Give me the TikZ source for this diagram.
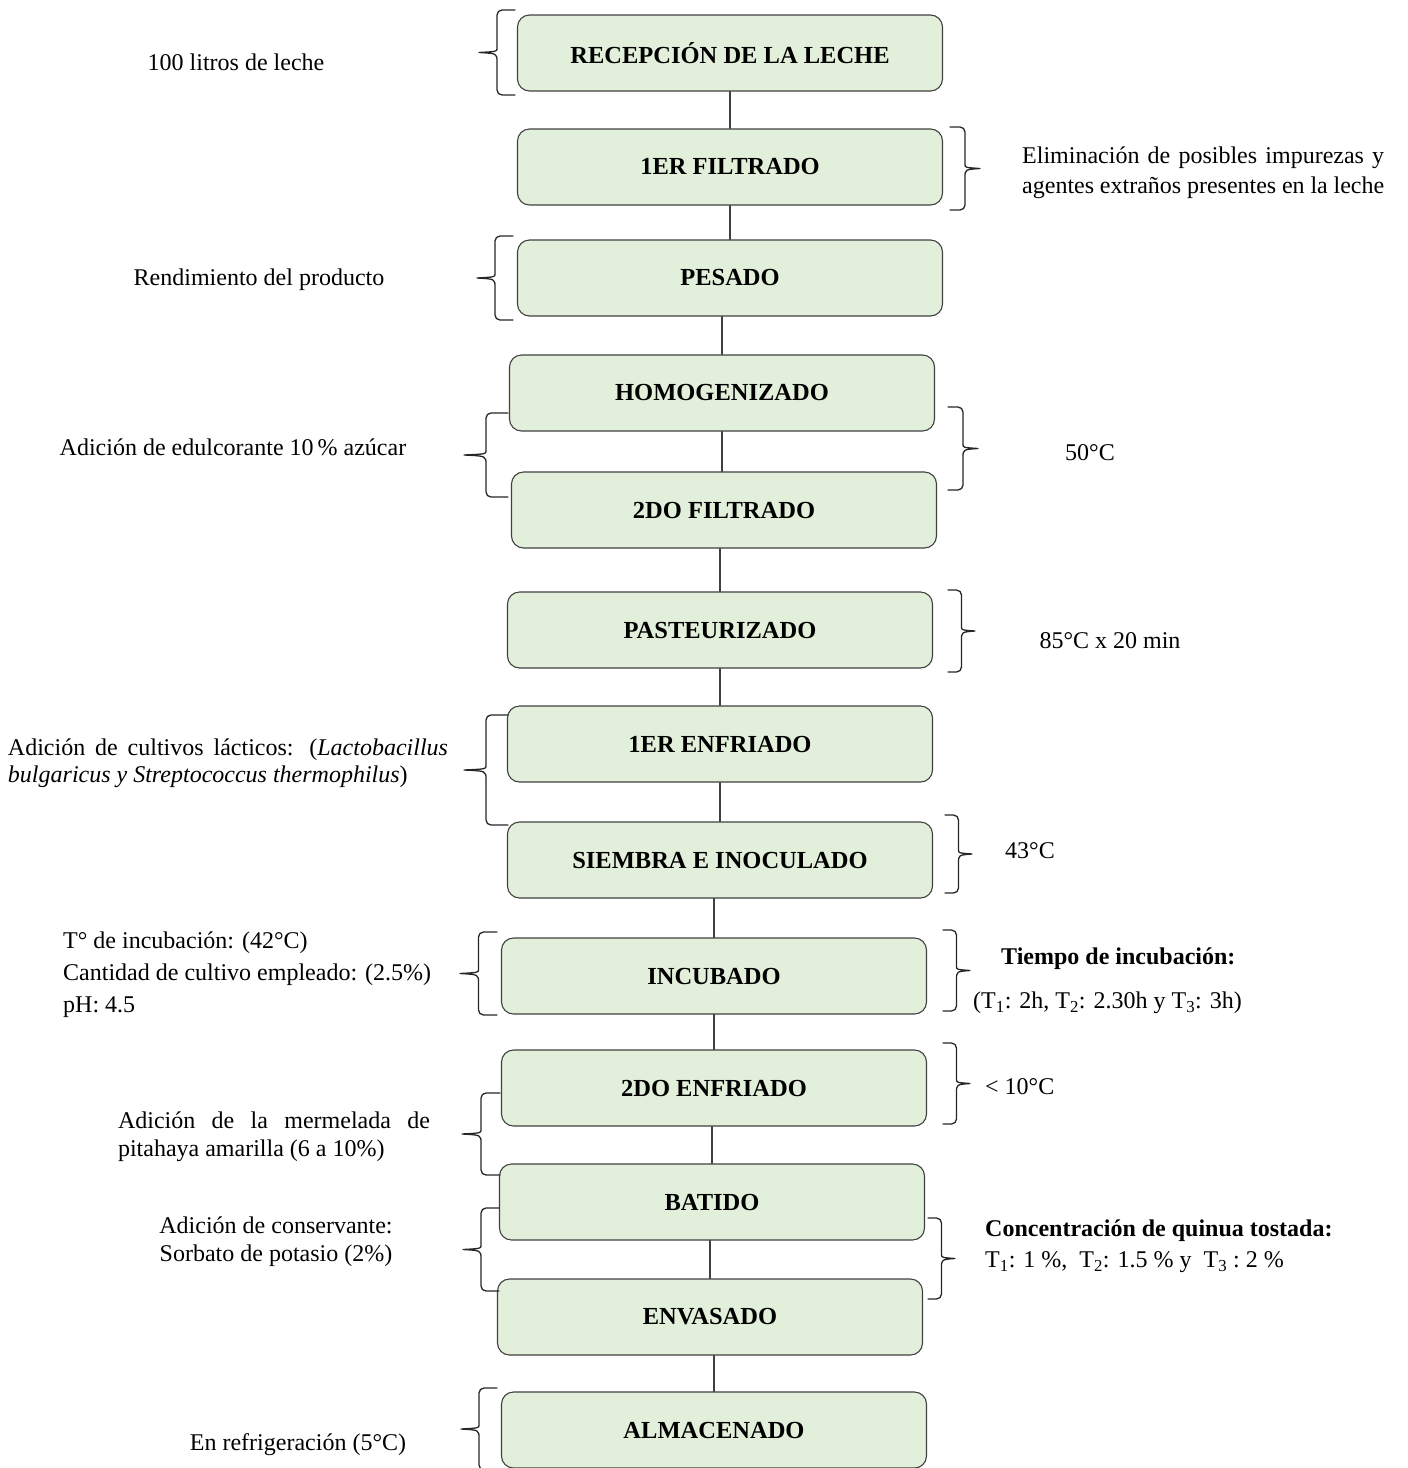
\documentclass[tikz,border=0pt]{standalone}
\usepackage{fontspec}
\setmainfont{Liberation Serif}
\usepackage{tikz}
\usetikzlibrary{calc}
\definecolor{verdeclaro}{HTML}{E2EFDA}
\definecolor{borde}{HTML}{404040}
\hyphenpenalty=10000
\exhyphenpenalty=10000

\begin{document}
\begin{tikzpicture}[line cap=round,line join=round,x=1pt,y=-1pt,
  paso/.style={draw=borde,fill=verdeclaro,line width=1.1pt,rounded corners=12pt,
    minimum width=425pt,minimum height=76pt,inner sep=0pt,
    font=\bfseries\fontsize{24.5}{28}\selectfont},
  nota/.style={inner sep=0pt,font=\fontsize{24}{28}\selectfont},
  linea/.style={line width=1.1pt,borde},
  trazo/.style={line width=1.3pt,black!85},
  llave/.style={to path={[rounded corners=5pt] (\tikztostart)
    -- ($(\tikztostart)+(#1/2,0)$)
    -- ($(\tikztostart)!.5!(\tikztotarget)+(#1/2,-9)$) [sharp corners]
    .. controls ($(\tikztostart)!.5!(\tikztotarget)+(#1/2,-1)$) .. ($(\tikztostart)!.5!(\tikztotarget)+(#1,0)$)
    .. controls ($(\tikztostart)!.5!(\tikztotarget)+(#1/2,1)$) .. ($(\tikztostart)!.5!(\tikztotarget)+(#1/2,9)$)
    [rounded corners=5pt] -- ($(\tikztotarget)+(#1/2,0)$) -- (\tikztotarget)}}]
\useasboundingbox (0,0) rectangle (1408,1468);
% pasos del proceso
\node[paso] (rec) at (730,53) {RECEPCIÓN DE LA LECHE};
\node[paso] (filt1) at (730,167) {1ER FILTRADO};
\node[paso] (pes) at (730,278) {PESADO};
\node[paso] (homo) at (722,393) {HOMOGENIZADO};
\node[paso] (filt2) at (724,510) {2DO FILTRADO};
\node[paso] (past) at (720,630) {PASTEURIZADO};
\node[paso] (enf1) at (720,744) {1ER ENFRIADO};
\node[paso] (siem) at (720,860) {SIEMBRA E INOCULADO};
\node[paso] (incu) at (714,976) {INCUBADO};
\node[paso] (enf2) at (714,1088) {2DO ENFRIADO};
\node[paso] (bati) at (712,1202) {BATIDO};
\node[paso] (enva) at (710,1317) {ENVASADO};
\node[paso] (alma) at (714,1430) {ALMACENADO};
% lineas entre pasos
\draw[linea] (rec.south) -- (rec.south |- filt1.north);
\draw[linea] (filt1.south) -- (filt1.south |- pes.north);
\draw[linea] (homo.south |- pes.south) -- (homo.north);
\draw[linea] (homo.south) -- (homo.south |- filt2.north);
\draw[linea] (past.north |- filt2.south) -- (past.north);
\draw[linea] (past.south) -- (past.south |- enf1.north);
\draw[linea] (enf1.south) -- (enf1.south |- siem.north);
\draw[linea] (incu.north |- siem.south) -- (incu.north);
\draw[linea] (incu.south) -- (incu.south |- enf2.north);
\draw[linea] (bati.north |- enf2.south) -- (bati.north);
\draw[linea] (enva.north |- bati.south) -- (enva.north);
\draw[linea] (alma.north |- enva.south) -- (alma.north);
% llaves izquierdas
\draw[trazo] (515,10) to[llave=-36] (515,95);
\draw[trazo] (513,236) to[llave=-36] (513,320);
\draw[trazo] (508,413) to[llave=-44] (508,497);
\draw[trazo] (508,715) to[llave=-44] (508,825);
\draw[trazo] (497,932) to[llave=-37] (497,1015);
\draw[trazo] (500,1093) to[llave=-38] (500,1175);
\draw[trazo] (499,1208) to[llave=-36] (499,1291);
\draw[trazo] (497,1388) to[llave=-36] (497,1470);
% llaves derechas
\draw[trazo] (950,127) to[llave=30] (950,210);
\draw[trazo] (948,407) to[llave=30] (948,490);
\draw[trazo] (948,590) to[llave=27] (948,672);
\draw[trazo] (945,815) to[llave=27] (945,893);
\draw[trazo] (943,930) to[llave=27] (943,1011);
\draw[trazo] (943,1043) to[llave=27] (943,1124);
\draw[trazo] (928,1218) to[llave=27] (928,1299);
% notas
\node[nota] (n1) at (236,62) {100 litros de leche};
\node[nota,anchor=west,text width=362pt,align=justify,font=\fontsize{24}{30}\selectfont] (n2) at (1022,173)
  {Eliminación de posibles impurezas y agentes extraños presentes en la leche};
\node[nota] (n3) at (259,280) {Rendimiento del producto};
\node[nota] (n4) at (233,447) {Adición de edulcorante 10\,\% azúcar};
\node[nota] (n5) at (1090,453) {50°C};
\node[nota] (n6) at (1110,641) {85°C x 20 min};
\node[nota,text width=440pt,align=justify,font=\fontsize{24}{27}\selectfont] (n7) at (228,763)
  {Adición de cultivos lácticos: (\textit{Lactobacillus bulgaricus y Streptococcus thermophilus})};
\node[nota] (n8) at (1030,851) {43°C};
\node[nota,anchor=west,align=left,font=\fontsize{24}{32}\selectfont] (n9) at (63,975)
  {T° de incubación: (42°C)\\Cantidad de cultivo empleado: (2.5\%)\\pH: 4.5};
\node[nota,anchor=west,font=\bfseries\fontsize{24}{28}\selectfont] (n10) at (1001,959) {Tiempo de incubación:};
\node[nota,anchor=west] (n11) at (973,1003)
  {(T\textsubscript{1}: 2h, T\textsubscript{2}: 2.30h y T\textsubscript{3}: 3h)};
\node[nota,anchor=west] (n12) at (985,1087) {< 10°C};
\node[nota,text width=312pt,align=justify] (n13) at (274,1137)
  {Adición de la mermelada de pitahaya amarilla (6 a 10\%)};
\node[nota,align=center] (n14) at (276,1242) {Adición de conservante:\\ Sorbato de potasio (2\%)};
\node[nota,anchor=west,font=\bfseries\fontsize{24}{28}\selectfont] (n15) at (985,1231) {Concentración de quinua tostada:};
\node[nota,anchor=west] (n16) at (985,1262)
  {T\textsubscript{1}: 1 \%,\ \ T\textsubscript{2}: 1.5 \% y\ \ T\textsubscript{3} :\ 2 \%};
\node[nota] (n17) at (298,1445) {En refrigeración (5°C)};
\end{tikzpicture}
\end{document}
